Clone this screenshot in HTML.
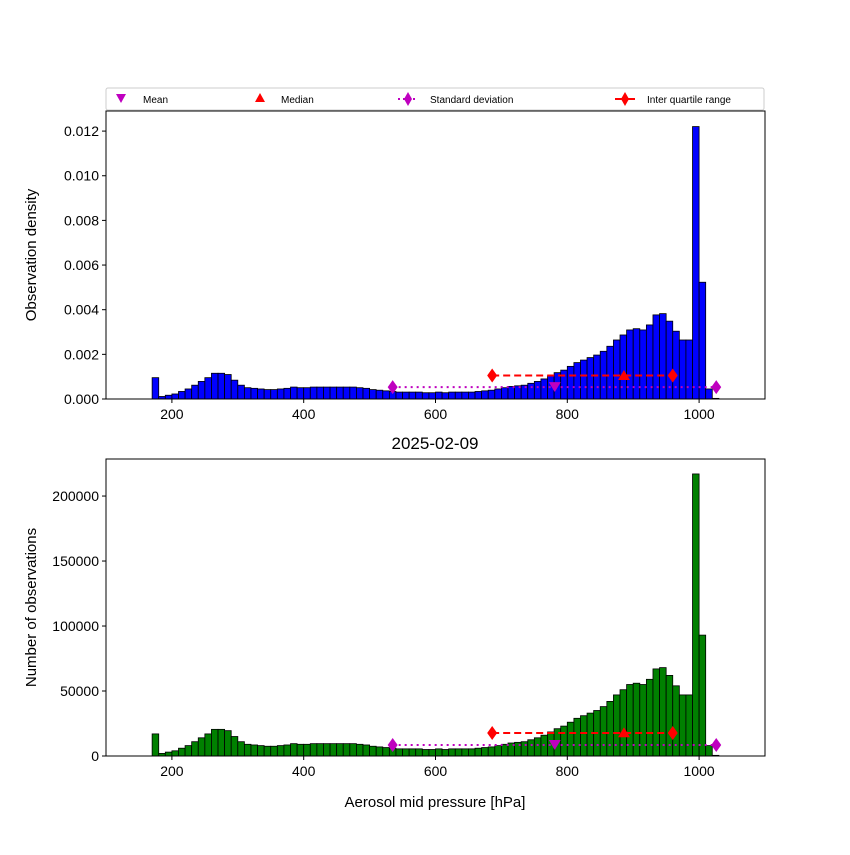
<!DOCTYPE html>
<html><head><meta charset="utf-8"><style>
body{margin:0;background:#fff}
svg{font-family:"Liberation Sans","DejaVu Sans",sans-serif}
</style></head><body>
<svg id="fig" width="850" height="850" xmlns="http://www.w3.org/2000/svg"></svg>
<script>
const binStart = 170, binWidth = 10;
const counts = [17,2,3,4,6,8,11,14,17,20.5,20.5,19.5,15,11,9,8.5,8,7.5,7.5,8,8.5,9.5,9,9,9.5,9.5,9.5,9.5,9.5,9.5,9.5,9,8.5,7.5,7,6.5,6,5.5,5.5,5.5,5.5,5,5,5.5,5,5.5,5.5,5.5,5.5,6,6.5,7,8,9,10,10.5,11,12.5,14,16,18.5,21,23,26,29,31,33,35,38,42,47,51,55,56,55,59,67,68,62,54,47,47,217,93,8,0.5].map(v=>v*1000);
const meanVal = 781, medianVal = 886, stdLo = 535, stdHi = 1026, iqrLo = 686, iqrHi = 960;
const topTicks = [0,0.002,0.004,0.006,0.008,0.010,0.012];
const botTicks = [0,50000,100000,150000,200000];
const xTicks = [200,400,600,800,1000];

const NS="http://www.w3.org/2000/svg", svg=document.getElementById('fig');
function mk(t,a,p){const e=document.createElementNS(NS,t);for(const k in a)e.setAttribute(k,a[k]);(p||svg).appendChild(e);return e;}
const X0=106,X1=765;
const sx=v=>X0+(v-100)/(1000)*(X1-X0);
const total=counts.reduce((a,b)=>a+b,0)*0.976;
const density=counts.map(c=>c/(total*binWidth));
const panels=[
 {top:111,bot:399,max:0.0129,vals:density,ticks:topTicks,fmt:v=>v.toFixed(3),fill:'#0000ff',label:'Observation density',name:'density-panel',
  iqrY:0.00105,stdY:0.00053,medY:0.00103,meanY:0.00053},
 {top:459,bot:756,max:228500,vals:counts,ticks:botTicks,fmt:v=>String(v),fill:'#008000',label:'Number of observations',name:'count-panel',
  iqrY:17700,stdY:8500,medY:17500,meanY:8500}
];
panels.forEach(p=>{
 const g=mk('g',{});
 
 
 const sy=v=>p.bot-v/p.max*(p.bot-p.top);
 p.vals.forEach((v,i)=>{
  const x=sx(binStart+i*binWidth),w=sx(binStart+(i+1)*binWidth)-x;
  const r=mk('rect',{x:x,y:sy(v),width:w,height:p.bot-sy(v),fill:p.fill,stroke:'#000','stroke-width':0.8},g);
  
  
 });
 // IQR
 const iq=mk('line',{x1:sx(iqrLo),x2:sx(iqrHi),y1:sy(p.iqrY),y2:sy(p.iqrY),stroke:'#ff0000','stroke-width':2,'stroke-dasharray':'7,4'},g);
 
 
 [iqrLo,iqrHi].forEach(v=>{const d=mk('path',{d:`M${sx(v)},${sy(p.iqrY)-7}l5,7l-5,7l-5,-7z`,fill:'#ff0000'},g);
  
  });
 // std
 const sl=mk('line',{x1:sx(stdLo),x2:sx(stdHi),y1:sy(p.stdY),y2:sy(p.stdY),stroke:'#bf00bf','stroke-width':2,'stroke-dasharray':'2,4'},g);
 
 
 [stdLo,stdHi].forEach(v=>{const d=mk('path',{d:`M${sx(v)},${sy(p.stdY)-7}l5,7l-5,7l-5,-7z`,fill:'#bf00bf'},g);
  
  });
 const md=mk('path',{d:`M${sx(medianVal)},${sy(p.medY)-6}l6,10h-12z`,fill:'#ff0000'},g);
 
 
 const mn=mk('path',{d:`M${sx(meanVal)-6},${sy(p.meanY)-5}h12l-6,10z`,fill:'#bf00bf'},g);
 
 
 const fr=mk('rect',{x:X0,y:p.top,width:X1-X0,height:p.bot-p.top,fill:'none',stroke:'#000','stroke-width':1},g);
 
 
 p.ticks.forEach(t=>{const y=sy(t);
  mk('line',{x1:X0-4,x2:X0,y1:y,y2:y,stroke:'#000'},g);
  const tx=mk('text',{x:X0-7,y:y+5,'text-anchor':'end','font-size':14},g);tx.textContent=p.fmt(t);
  
  });
 xTicks.forEach(t=>{const x=sx(t);
  mk('line',{x1:x,x2:x,y1:p.bot,y2:p.bot+4,stroke:'#000'},g);
  const tx=mk('text',{x:x,y:p.bot+20,'text-anchor':'middle','font-size':14},g);tx.textContent=t;
  
  });
 const yl=mk('text',{transform:`translate(36,${(p.top+p.bot)/2}) rotate(-90)`,'text-anchor':'middle','font-size':15},g);
 yl.textContent=p.label;
 
 
});
</script>
<svg width="850" height="850" style="position:absolute;left:0;top:0" xmlns="http://www.w3.org/2000/svg" font-family="Liberation Sans, DejaVu Sans, sans-serif">
<text x="435" y="449" text-anchor="middle" font-size="17">2025-02-09</text>
<text x="435" y="807" text-anchor="middle" font-size="15">Aerosol mid pressure [hPa]</text>
<g>
<rect x="106" y="88" width="658" height="22" rx="2" fill="#fff" stroke="#ccc"/>
<g><path d="M116,94h10l-5,9z" fill="#bf00bf"/><text x="143" y="103" font-size="10">Mean</text></g>
<g><path d="M260,93l5,9h-10z" fill="#ff0000"/><text x="281" y="103" font-size="10">Median</text></g>
<g><line x1="398" x2="418" y1="99" y2="99" stroke="#bf00bf" stroke-width="2" stroke-dasharray="2,3"/><path d="M408,92l4,7l-4,7l-4,-7z" fill="#bf00bf"/><text x="430" y="103" font-size="10">Standard deviation</text></g>
<g><line x1="615" x2="635" y1="99" y2="99" stroke="#ff0000" stroke-width="2"/><path d="M625,92l4,7l-4,7l-4,-7z" fill="#ff0000"/><text x="647" y="103" font-size="10">Inter quartile range</text></g>
</g>
</svg>
</body></html>
